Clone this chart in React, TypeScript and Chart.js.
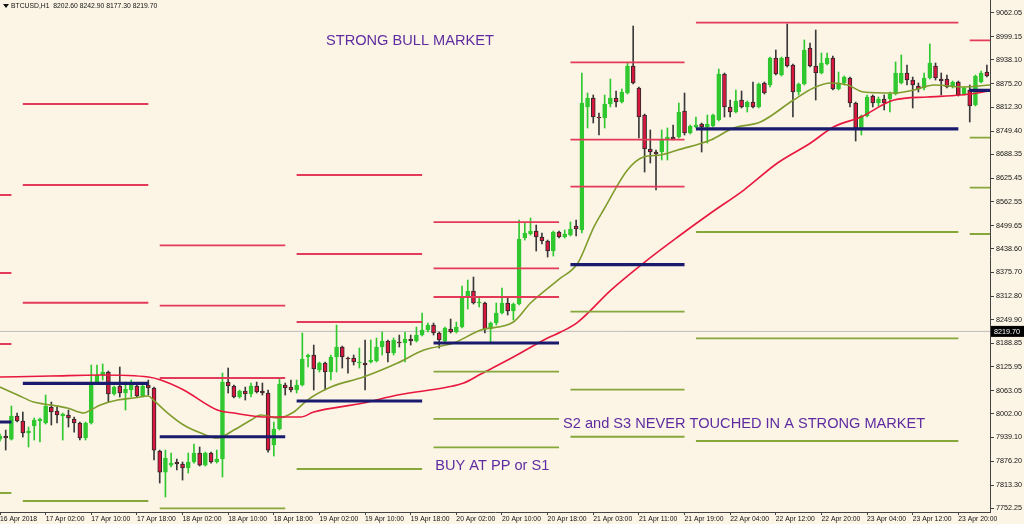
import React, { useEffect, useRef } from 'react';
import { Chart, registerables } from 'chart.js';

Chart.register(...registerables);

// ---- Candles (hourly BTCUSD) ----
const opens = [7934.9,7942.9,7934.9,7995.8,7982.6,7950.8,7969.3,7982.6,7977.3,8019.6,8009.0,7995.8,7998.4,7987.9,7977.3,7937.6,7977.3,8083.1,8104.3,8112.2,8054.0,8075.2,8056.6,8064.6,8075.2,8048.7,8077.8,8069.9,7903.2,7847.6,7866.1,7874.1,7868.8,7858.2,7874.1,7897.9,7866.1,7897.9,7874.1,7882.0,8085.7,8075.2,8046.1,8061.9,8054.0,8075.2,8061.9,8056.6,7919.1,7961.4,8077.8,8072.5,8064.6,8077.8,8151.9,8157.2,8117.5,8136.0,8112.2,8151.9,8178.3,8149.2,8149.2,8136.0,8136.0,8138.7,8141.3,8178.3,8194.2,8162.5,8191.6,8188.9,8199.5,8194.2,8210.1,8223.3,8236.5,8215.4,8194.2,8226.0,8218.0,8231.3,8313.3,8326.5,8294.8,8294.8,8226.0,8241.8,8268.3,8294.8,8273.6,8292.1,8466.7,8477.3,8485.2,8469.4,8458.8,8432.3,8482.6,8469.4,8474.7,8498.5,8487.9,8813.3,8837.1,8786.9,8784.2,8821.2,8837.1,8826.5,8850.3,8921.8,8863.6,8792.1,8702.2,8694.3,8694.3,8728.6,8733.9,8733.9,8802.7,8744.5,8760.4,8768.3,8760.4,8763.0,8778.9,8900.6,8813.3,8800.1,8831.8,8813.3,8826.5,8813.3,8876.8,8871.5,8942.9,8898.0,8945.6,8924.4,8853.0,8874.2,8969.4,8921.8,8903.3,8927.1,8942.9,8860.9,8876.8,8890.0,8823.9,8757.8,8789.5,8842.4,8823.9,8834.5,8834.5,8847.7,8876.8,8903.3,8884.7,8868.9,8863.6,8890.0,8921.8,8887.4,8887.4,8866.2,8879.5,8847.7,8858.3,8818.6,8879.5,8905.9];
const highs = [7948.2,7958.7,8022.2,8003.7,8006.4,7966.7,7990.5,7990.5,8051.3,8032.8,8019.6,8003.7,8011.7,7993.1,7979.9,7979.9,8130.7,8130.7,8133.4,8114.8,8075.2,8125.4,8085.7,8091.0,8077.8,8083.1,8091.0,8072.5,7905.8,7905.8,7897.9,7882.0,7874.1,7897.9,7921.7,7913.8,7900.5,7900.5,7905.8,8109.5,8122.8,8077.8,8064.6,8072.5,8083.1,8085.7,8083.1,8064.6,7979.9,8096.3,8083.1,8091.0,8091.0,8215.4,8159.8,8183.6,8138.7,8138.7,8157.2,8236.5,8181.0,8151.9,8157.2,8175.7,8196.9,8196.9,8202.2,8218.0,8196.9,8202.2,8210.1,8218.0,8210.1,8231.3,8268.3,8241.8,8241.8,8218.0,8231.3,8252.4,8244.5,8339.7,8355.6,8363.5,8310.6,8297.4,8244.5,8294.8,8334.4,8308.0,8294.8,8514.3,8506.4,8519.6,8501.1,8480.0,8461.4,8485.2,8485.2,8487.9,8509.1,8514.3,8903.3,8850.3,8845.1,8797.4,8845.1,8887.4,8855.6,8860.9,8929.7,9027.6,8866.2,8794.8,8752.5,8699.5,8752.5,8757.8,8765.7,8823.9,8850.3,8765.7,8786.9,8771.0,8792.1,8794.8,8913.8,8903.3,8831.8,8858.3,8855.6,8829.2,8879.5,8876.8,8879.5,8945.6,8964.1,8945.6,9032.9,8927.1,8876.8,8990.6,8982.6,9017.0,8956.2,8956.2,8948.2,8905.9,8895.3,8892.7,8826.5,8792.1,8845.1,8845.1,8839.8,8845.1,8853.0,8932.4,8950.9,8924.4,8892.7,8876.8,8903.3,8980.0,8929.7,8903.3,8898.0,8882.1,8882.1,8866.2,8871.5,8898.0,8908.6,8924.4];
const lows = [7929.6,7905.8,7932.3,7979.9,7940.2,7913.8,7932.3,7927.0,7974.6,7972.0,7977.3,7932.3,7966.7,7953.4,7932.3,7932.3,7974.6,8080.4,8091.0,8032.8,8051.3,8046.1,8011.7,8046.1,8046.1,8046.1,8051.3,7879.4,7818.5,7781.5,7860.9,7852.9,7826.4,7845.0,7871.4,7863.5,7863.5,7871.4,7871.4,7834.4,8056.6,8043.4,8043.4,8038.1,8046.1,8056.6,8051.3,7900.5,7890.0,7958.7,8051.3,8059.3,8056.6,8075.2,8125.4,8064.6,8112.2,8064.6,8091.0,8112.2,8122.8,8109.5,8130.7,8122.8,8064.6,8136.0,8138.7,8157.2,8138.7,8157.2,8178.3,8138.7,8183.6,8191.6,8207.4,8218.0,8210.1,8175.7,8191.6,8215.4,8215.4,8228.6,8278.9,8292.1,8284.2,8215.4,8191.6,8236.5,8265.7,8263.0,8249.8,8289.5,8461.4,8474.7,8432.3,8450.8,8416.5,8419.1,8466.7,8466.7,8472.0,8472.0,8480.0,8757.8,8771.0,8739.2,8757.8,8813.3,8813.3,8823.9,8847.7,8874.2,8731.3,8641.3,8665.2,8593.7,8673.1,8673.1,8726.0,8731.3,8739.2,8741.9,8757.8,8694.3,8718.1,8760.4,8776.3,8786.9,8786.9,8797.4,8810.7,8800.1,8810.7,8810.7,8847.7,8866.2,8898.0,8895.3,8919.1,8786.9,8845.1,8871.5,8919.1,8831.8,8900.6,8924.4,8858.3,8858.3,8871.5,8813.3,8723.4,8739.2,8786.9,8813.3,8816.0,8805.4,8800.1,8845.1,8874.2,8871.5,8810.7,8853.0,8858.3,8887.4,8884.7,8845.1,8863.6,8863.6,8842.4,8845.1,8773.6,8816.0,8876.8,8892.7];
const closes = [7942.9,7937.6,7995.8,7982.6,7950.8,7956.1,7985.2,7987.9,8022.2,8006.4,7998.4,8001.1,7990.5,7977.3,7937.6,7977.3,8083.1,8104.3,8112.2,8054.0,8072.5,8056.6,8067.2,8077.8,8048.7,8075.2,8069.9,7905.8,7847.6,7884.7,7871.4,7868.8,7858.2,7874.1,7897.9,7866.1,7897.9,7874.1,7882.0,8085.7,8075.2,8046.1,8061.9,8054.0,8075.2,8059.3,8056.6,7905.8,7961.4,8080.4,8069.9,8064.6,8077.8,8146.6,8157.2,8120.1,8136.0,8112.2,8151.9,8178.3,8151.9,8146.6,8138.7,8138.7,8130.7,8143.9,8178.3,8194.2,8162.5,8196.9,8188.9,8199.5,8194.2,8210.1,8223.3,8236.5,8215.4,8196.9,8228.6,8218.0,8231.3,8310.6,8326.5,8294.8,8297.4,8226.0,8241.8,8268.3,8294.8,8273.6,8292.1,8464.1,8480.0,8485.2,8469.4,8458.8,8432.3,8482.6,8469.4,8477.3,8490.5,8490.5,8823.9,8837.1,8786.9,8784.2,8821.2,8837.1,8826.5,8853.0,8921.8,8876.8,8786.9,8702.2,8694.3,8689.0,8728.6,8733.9,8728.6,8800.1,8744.5,8763.0,8765.7,8760.4,8768.3,8792.1,8900.6,8813.3,8800.1,8829.2,8813.3,8826.5,8813.3,8874.2,8850.3,8942.9,8900.6,8942.9,8921.8,8853.0,8874.2,8964.1,8921.8,8903.3,8929.7,8942.9,8860.9,8876.8,8892.7,8823.9,8757.8,8789.5,8839.8,8823.9,8834.5,8823.9,8847.7,8903.3,8903.3,8884.7,8871.5,8860.9,8890.0,8929.7,8890.0,8882.1,8866.2,8879.5,8845.1,8863.6,8816.0,8895.3,8903.3,8895.3];

// ---- Daily pivot levels (segment start/end in bar index) ----
const pivotStart = [-20, 4, 28, 52, 76, 100, 122, 170];
const pivotEnd = [2, 26, 50, 74, 98, 120, 168, 194];
const pivotR3 = [8580.5, 8821.3, 8447.5, 8633.5, 8509.0, 8931.6, 9590.2, 9247.5];
const pivotR2 = [8374.2, 8607.0, 8287.7, 8424.4, 8386.6, 8726.8, 9309.0, 9115.2];
const pivotR1 = [8186.3, 8295.5, 8096.4, 8244.5, 8310.7, 8602.5, 9036.4, 8989.8];
const pivotPP = [7980.0, 8082.3, 7941.0, 8035.5, 8189.0, 8396.1, 8755.2, 8857.5];
const pivotS1 = [7792.1, 7771.0, 7751.6, 7855.6, 8113.0, 8271.8, 8482.6, 8732.1];
const pivotS2 = [7600.0, 7558.0, 7597.0, 7646.5, 7988.0, 8065.4, 8201.4, 8599.8];
const pivotS3 = [7400.0, 7247.0, 7407.0, 7466.5, 7913.0, 7941.0, 7929.7, 8477.3];

// ---- Moving averages (read points) ----
const maSlowBars = [0, 8.9, 17.6, 26, 28.2, 32.2, 38.1, 41, 46.9, 52.7, 55, 63.7, 69.7, 78.5, 81.3, 84.3, 90, 96, 98.3, 101.3, 107.1, 112.8, 118.8, 124.6, 130.4, 136.3, 142.1, 146.1, 150.9, 156.7, 162.6, 168.4, 173.6];
const maSlowValues = [8099.0, 8101.6, 8104.3, 8099.0, 8091.0, 8064.6, 8011.7, 8003.7, 7993.1, 7993.1, 8006.4, 8030.2, 8051.3, 8072.5, 8083.1, 8106.9, 8151.9, 8202.2, 8218.0, 8244.5, 8329.1, 8400.6, 8469.4, 8532.9, 8593.7, 8665.2, 8718.1, 8760.4, 8786.9, 8831.8, 8839.8, 8845.1, 8855.6];
const maFastBars = [0, 3.1, 5.9, 8.9, 11.8, 14.7, 15.9, 17.6, 20.6, 23.4, 26, 26.9, 29.4, 32.2, 35.2, 38.1, 41, 44, 45.7, 48.7, 51.5, 53.9, 58, 63.7, 69.7, 74.3, 79.5, 84.3, 90, 93, 97.8, 101.3, 104.1, 105.8, 110, 112.8, 115.8, 118.8, 124.6, 128.6, 133.3, 139.1, 142.6, 145.6, 148.6, 151.4, 156.7, 160.2, 163.7, 168.9, 173.6];
const maFastValues = [8072.5, 8051.3, 8032.8, 8024.9, 8017.0, 8003.7, 8011.7, 8024.9, 8038.1, 8043.4, 8048.7, 8038.1, 8003.7, 7972.0, 7950.8, 7937.6, 7958.7, 7985.2, 7998.4, 7990.5, 8006.4, 8038.1, 8072.5, 8099.0, 8136.0, 8170.4, 8188.9, 8223.3, 8244.5, 8294.8, 8355.6, 8400.6, 8495.8, 8540.8, 8646.6, 8681.0, 8686.3, 8699.5, 8726.0, 8757.8, 8773.6, 8831.8, 8863.6, 8876.8, 8871.5, 8853.0, 8850.3, 8858.3, 8871.5, 8866.2, 8871.5];

// ---- Axes ----
const xTickBars = [0, 8, 16, 24, 32, 40, 48, 56, 64, 72, 80, 88, 96, 104, 112, 120, 128, 136, 144, 152, 160, 168];
const xTickLabels = ['16 Apr 2018', '17 Apr 02:00', '17 Apr 10:00', '17 Apr 18:00', '18 Apr 02:00', '18 Apr 10:00', '18 Apr 18:00', '19 Apr 02:00', '19 Apr 10:00', '19 Apr 18:00', '20 Apr 02:00', '20 Apr 10:00', '20 Apr 18:00', '21 Apr 03:00', '21 Apr 11:00', '21 Apr 19:00', '22 Apr 04:00', '22 Apr 12:00', '22 Apr 20:00', '23 Apr 04:00', '23 Apr 12:00', '23 Apr 20:00'];
const yTickValues = [9062.05, 8999.15, 8938.10, 8875.20, 8812.30, 8749.40, 8688.35, 8625.45, 8562.55, 8499.65, 8438.60, 8375.70, 8312.80, 8249.90, 8188.85, 8125.95, 8063.05, 8002.00, 7939.10, 7876.20, 7813.30, 7752.25];

const headerSymbol = 'BTCUSD,H1';
const headerOHLC = [8202.60, 8242.90, 8177.30, 8219.70];
const lastPrice = 8219.70;

const noteTexts = ['STRONG BULL MARKET', 'S2 and S3 NEVER TOUCHED IN A STRONG MARKET', 'BUY AT PP or S1'];
const noteBars = [57.15, 98.7, 76.3];
const notePrices = [8987.9, 7974.6, 7863.5];

const BG = '#FCF5E6';
const FONT = '"Liberation Sans", Arial, sans-serif';
const BULL = '#2FC82F';
const BEAR = '#D8173E';

function segData(vals: number[]) {
  const pts: any[] = [];
  vals.forEach((v, k) => {
    pts.push({ x: pivotStart[k], y: v }, { x: pivotEnd[k], y: v }, { x: pivotEnd[k] + 0.5, y: null });
  });
  return pts;
}

const overlayPlugin = {
  id: 'overlay',
  beforeDraw(chart: any) {
    const { ctx, width, height } = chart;
    ctx.save();
    ctx.fillStyle = BG;
    ctx.fillRect(0, 0, width, height);
    ctx.restore();
  },
  afterDraw(chart: any) {
    const { ctx, chartArea } = chart;
    const x = chart.scales.x;
    const y = chart.scales.y;
    ctx.save();
    // annotations
    ctx.font = `14.6px ${FONT}`;
    ctx.fillStyle = '#5E2CA0';
    ctx.textBaseline = 'middle';
    ctx.textAlign = 'left';
    noteTexts.forEach((t, i) => {
      ctx.fillText(t, x.getPixelForValue(noteBars[i]), y.getPixelForValue(notePrices[i]));
    });
    // header
    ctx.fillStyle = '#111';
    ctx.beginPath();
    ctx.moveTo(3, 4);
    ctx.lineTo(9, 4);
    ctx.lineTo(6, 8);
    ctx.closePath();
    ctx.fill();
    ctx.font = `6.8px ${FONT}`;
    ctx.fillText(headerSymbol + '  ' + headerOHLC.map((v) => v.toFixed(2)).join(' '), 11, 6);
    // last price tag
    const py = y.getPixelForValue(lastPrice);
    ctx.fillStyle = '#000';
    ctx.fillRect(chartArea.right + 1, py - 5.5, 33, 11);
    ctx.fillStyle = '#fff';
    ctx.font = `7.2px ${FONT}`;
    ctx.fillText(lastPrice.toFixed(2), chartArea.right + 4, py + 0.5);
    ctx.restore();
  },
};

export default function App() {
  const ref = useRef<HTMLCanvasElement | null>(null);

  useEffect(() => {
    if (!ref.current) return;
    const bull = opens.map((o, i) => closes[i] >= o);
    const lineBase = { type: 'line' as const, pointRadius: 0, spanGaps: false, fill: false };
    const pivotLine = (vals: number[], color: string, w: number) => ({
      ...lineBase,
      data: segData(vals),
      borderColor: color,
      borderWidth: w,
      order: 1,
    });

    const chart = new Chart(ref.current, {
      type: 'bar',
      data: {
        datasets: [
          {
            type: 'bar',
            data: opens.map((o, i) => ({ x: i, y: [o, closes[i]] })),
            backgroundColor: bull.map((b) => (b ? BULL : BEAR)),
            borderColor: bull.map((b) => (b ? BULL : '#2a2a2a')),
            borderWidth: 1,
            borderSkipped: false,
            barThickness: 4,
            minBarLength: 1,
            grouped: false,
            order: 3,
          } as any,
          {
            type: 'bar',
            data: lows.map((l, i) => ({ x: i, y: [l, highs[i]] })),
            backgroundColor: bull.map((b) => (b ? BULL : '#3a3a3a')),
            borderWidth: 0,
            barThickness: 1,
            grouped: false,
            order: 4,
          } as any,
          {
            ...lineBase,
            data: maSlowBars.map((b, i) => ({ x: b, y: maSlowValues[i] })),
            borderColor: '#E8173F',
            borderWidth: 1.6,
            cubicInterpolationMode: 'monotone',
            order: 2,
          } as any,
          {
            ...lineBase,
            data: maFastBars.map((b, i) => ({ x: b, y: maFastValues[i] })),
            borderColor: '#7F9C2C',
            borderWidth: 1.6,
            cubicInterpolationMode: 'monotone',
            order: 2,
          } as any,
          pivotLine(pivotR3, '#E33A5A', 1.8) as any,
          pivotLine(pivotR2, '#E33A5A', 1.8) as any,
          pivotLine(pivotR1, '#E33A5A', 1.8) as any,
          pivotLine(pivotPP, '#1B1B6E', 3.2) as any,
          pivotLine(pivotS1, '#86A83A', 1.8) as any,
          pivotLine(pivotS2, '#86A83A', 1.8) as any,
          pivotLine(pivotS3, '#86A83A', 1.8) as any,
          {
            ...lineBase,
            data: [{ x: 0, y: lastPrice }, { x: 174, y: lastPrice }],
            borderColor: '#BDBDBD',
            borderWidth: 1,
            order: 9,
          } as any,
        ],
      },
      options: {
        animation: false,
        responsive: true,
        maintainAspectRatio: false,
        events: [],
        layout: { padding: 0 },
        plugins: { legend: { display: false }, tooltip: { enabled: false } },
        scales: {
          x: {
            type: 'linear',
            min: 0,
            max: 173.55,
            offset: false,
            grid: { display: true, drawOnChartArea: false, drawTicks: true, tickLength: 3, color: '#444', offset: false },
            border: { display: true, color: '#444' },
            ticks: {
              autoSkip: false,
              maxRotation: 0,
              minRotation: 0,
              align: 'start',
              padding: 0,
              color: '#111',
              font: { family: FONT, size: 6.8 },
              callback: (v: any) => {
                const k = xTickBars.indexOf(Number(v));
                return k >= 0 ? xTickLabels[k] : '';
              },
            },
            afterBuildTicks: (s: any) => {
              s.ticks = xTickBars.map((v) => ({ value: v }));
            },
            afterFit: (s: any) => {
              s.height = 12;
              s.paddingLeft = 0;
              s.paddingRight = 0;
            },
          } as any,
          y: {
            type: 'linear',
            position: 'right',
            min: 7741.9,
            max: 9096.4,
            grid: { display: true, drawOnChartArea: false, drawTicks: true, tickLength: 4, color: '#444' },
            border: { display: true, color: '#444' },
            ticks: {
              autoSkip: false,
              padding: 2,
              color: '#111',
              font: { family: FONT, size: 7.2 },
              callback: (v: any) => Number(v).toFixed(2),
            },
            afterBuildTicks: (s: any) => {
              s.ticks = yTickValues.map((v) => ({ value: v }));
            },
            afterFit: (s: any) => {
              s.width = 34;
              s.paddingTop = 0;
              s.paddingBottom = 0;
            },
          } as any,
        },
      },
      plugins: [overlayPlugin],
    });
    return () => chart.destroy();
  }, []);

  return (
    <div style={{ position: 'fixed', left: 0, top: 0, width: 1024, height: 524, background: BG }}>
      <canvas ref={ref} />
    </div>
  );
}
